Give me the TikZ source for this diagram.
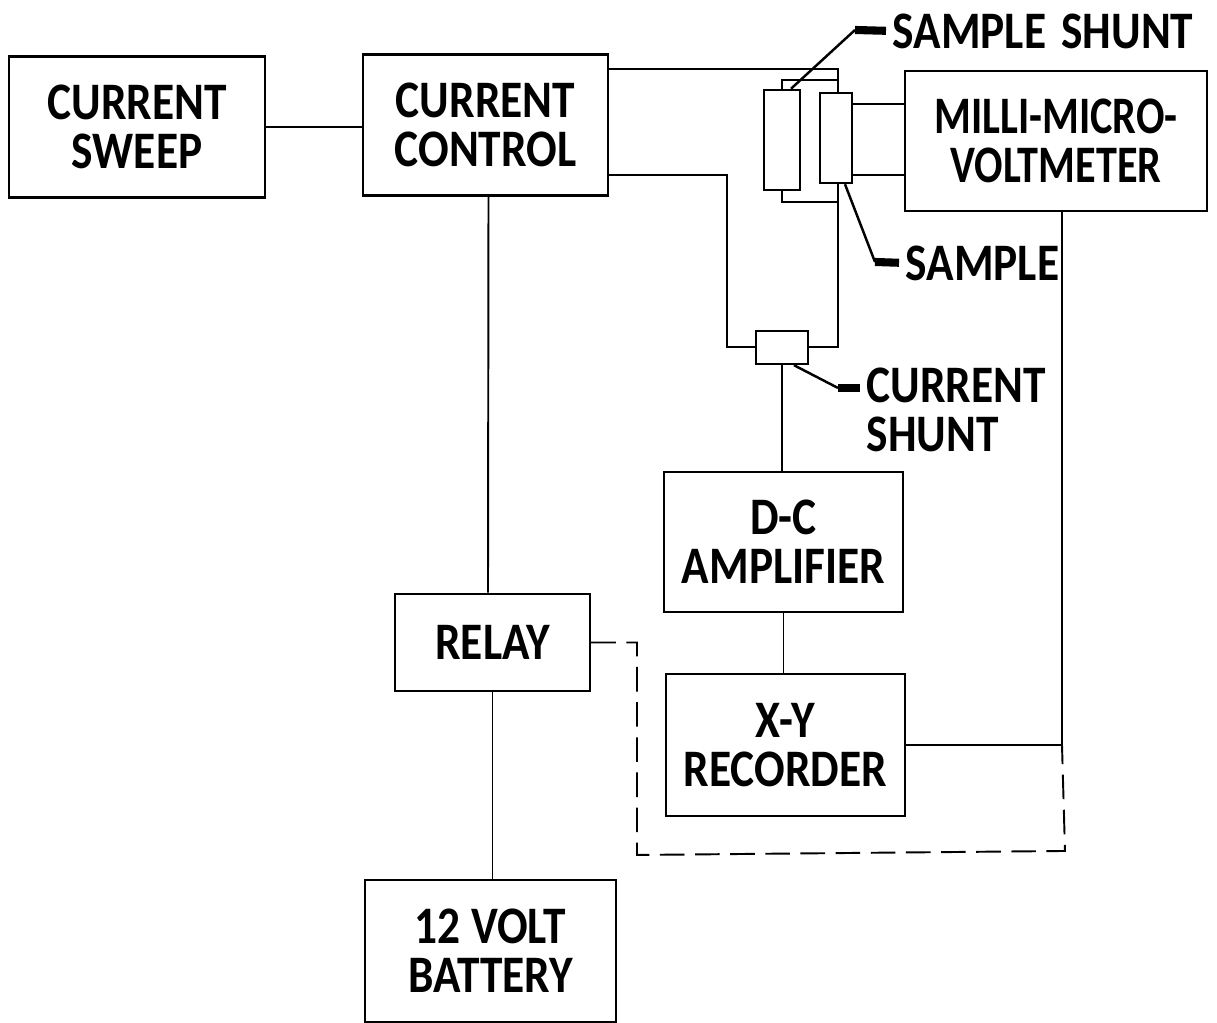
\documentclass[tikz,border=0pt]{standalone}
\usepackage{fontspec}
\setmainfont[FakeStretch=0.86]{Carlito}
\newfontfamily\narrowfont[FakeStretch=0.80]{Carlito}
\usepackage{tikz}
\usetikzlibrary{positioning}

\begin{document}
\begin{tikzpicture}[
        font=\fontsize{15}{14}\selectfont\bfseries,
        unit/.style={
            draw,
            line width=0.7pt,
            align=center,
            inner sep=0pt
        },
        element/.style={
            draw,
            line width=0.7pt,
            inner sep=0pt
        },
        tag/.style={
            align=left,
            inner sep=0pt,
            anchor=west
        },
        wire/.style={line width=0.55pt},
        leader/.style={line width=0.7pt},
        stub/.style={line width=2.3pt, shorten >=0.06cm}
    ]

    \useasboundingbox (0,0) rectangle (12.17,10.23);

    \node[unit, minimum width=2.56cm, minimum height=1.41cm] (sweep) at (1.37,8.96) {CURRENT\\SWEEP};
    \node[unit, minimum width=2.45cm, minimum height=1.41cm] (control) at (4.855,8.98) {CURRENT\\CONTROL};
    \node[unit, minimum width=3.02cm, minimum height=1.40cm, font=\fontsize{15}{14}\selectfont\bfseries\narrowfont] (voltmeter) at (10.56,8.82) {MILLI-MICRO-\\VOLTMETER};
    \node[unit, minimum width=2.39cm, minimum height=1.40cm] (amplifier) at (7.835,4.81) {D-C\\AMPLIFIER};
    \node[unit, minimum width=2.39cm, minimum height=1.42cm] (recorder) at (7.855,2.78) {X-Y\\RECORDER};
    \node[unit, minimum width=1.95cm, minimum height=0.97cm] (relay) at (4.925,3.805) {RELAY};
    \node[unit, minimum width=2.51cm, minimum height=1.42cm] (battery) at (4.905,0.72) {12 VOLT\\BATTERY};

    \node[element, minimum width=0.36cm, minimum height=1.00cm] (sampleshunt) at (7.82,8.83) {};
    \node[element, minimum width=0.32cm, minimum height=0.90cm] (sample) at (8.36,8.85) {};
    \node[element, minimum width=0.52cm, minimum height=0.33cm] (currentshunt) at (7.82,6.755) {};

    \node[tag] (sampleshuntlabel) at (8.92,9.92) {SAMPLE\hspace{0.05cm} SHUNT};
    \node[tag] (samplelabel) at (9.05,7.60) {SAMPLE};
    \node[tag] (currentshuntlabel) at (8.66,6.13) {CURRENT\\SHUNT};

    \coordinate (topjoin) at (8.38,9.54);
    \coordinate (shunttop) at (7.82,9.43);
    \coordinate (shuntbottom) at (7.82,8.21);
    \coordinate (rightjoin) at (8.38,6.76);
    \coordinate (leftjoin) at (7.27,6.76);
    \coordinate (lowerwire) at (7.27,8.48);
    \coordinate (meterdrop) at (10.62,2.80);
    \coordinate (dashleft) at (6.37,1.68);
    \coordinate (dashright) at (10.65,1.72);
    \coordinate (sampleelbow) at (8.75,7.61);
    \coordinate (sampleshuntelbow) at (8.55,9.93);
    \coordinate (currentshuntelbow) at (8.38,6.35);

    \draw[wire] (sweep.east) -- (control.west |- sweep.east);
    \draw[wire] (control.east |- topjoin) -- (topjoin) -- (sample.north -| topjoin);
    \draw[wire] (sampleshunt.north) -- (shunttop) -- (shunttop -| topjoin);
    \draw[wire] (sampleshunt.south) -- (shuntbottom) -- (shuntbottom -| topjoin);
    \draw[wire] (sample.south -| topjoin) -- (rightjoin) -- (currentshunt.east |- rightjoin);
    \draw[wire] (control.east |- lowerwire) -- (lowerwire) -- (leftjoin) -- (currentshunt.west |- leftjoin);
    \draw[wire] (sample.east |- 0,9.19) -- (voltmeter.west |- 0,9.19);
    \draw[wire] (sample.east |- 0,8.48) -- (voltmeter.west |- 0,8.48);
    \draw[wire] (currentshunt.south) -- (amplifier.north -| currentshunt.south);
    \draw[wire] (amplifier.south) -- (recorder.north -| amplifier.south);
    \draw[wire] (recorder.east) -- (meterdrop |- recorder.east) -- (voltmeter.south -| meterdrop);
    \draw[wire] (control.south) ++(0.03,0) -- (relay.north -| 4.88,0);
    \draw[wire] (relay.south) -- (relay.south |- battery.north);
    \draw[wire, dashed, dash pattern=on 7pt off 3pt] (relay.east) -| (dashleft) -- (dashright) -- (meterdrop |- recorder.east);

    \draw[leader] (sampleshunt.north) ++(0.09,0) -- (sampleshuntelbow);
    \draw[stub] (sampleshuntelbow) -- (sampleshuntlabel.west);
    \draw[leader] (sample.south) ++(0.09,0) -- (sampleelbow);
    \draw[stub] (sampleelbow) -- (samplelabel.west);
    \draw[leader] (currentshunt.south) ++(0.12,0) -- (currentshuntelbow);
    \draw[stub] (currentshuntelbow) -- (currentshuntlabel.west |- currentshuntelbow);

    \end{tikzpicture}
\end{document}
